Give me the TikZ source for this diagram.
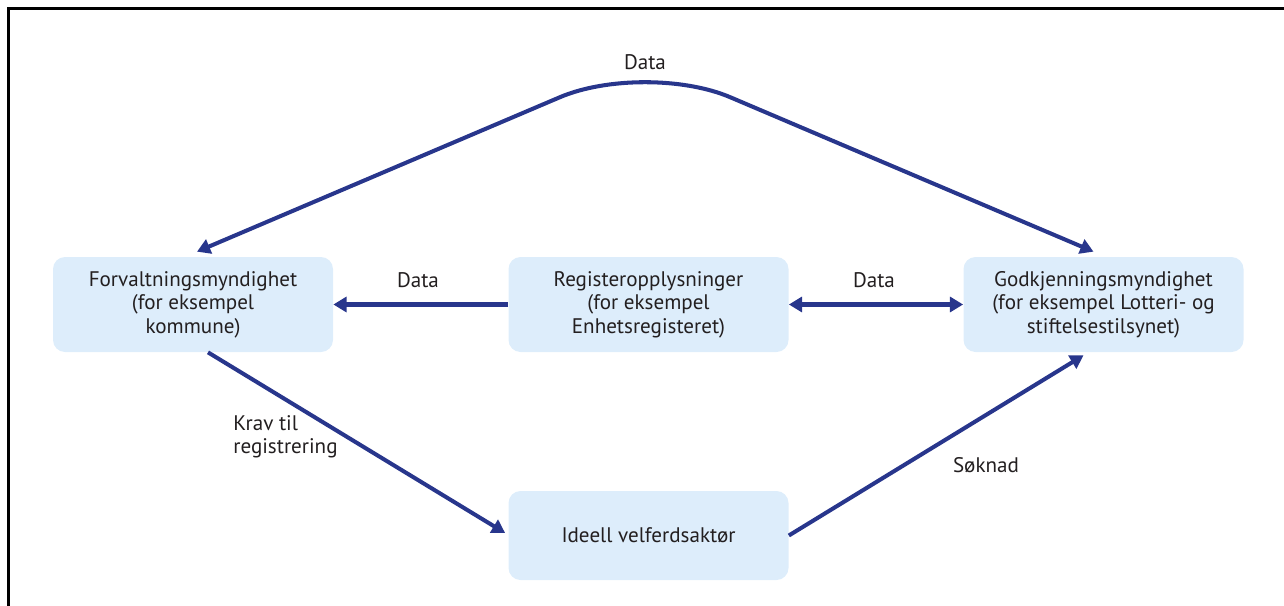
\documentclass[tikz,border=0pt]{standalone}
\usepackage{fontspec}
\setmainfont{PT Sans}
\usetikzlibrary{arrows.meta}
\definecolor{boxblue}{RGB}{221,237,251}
\definecolor{arrowblue}{RGB}{40,54,140}
\definecolor{txtgray}{RGB}{35,31,32}
\tikzset{
    boks/.style={fill=boxblue, rounded corners=0.24cm, minimum width=5.6cm, minimum height=1.9cm,
        align=center, text=txtgray, font=\fontsize{12}{13.3}\selectfont, inner sep=0pt},
    pil/.style={arrowblue, line width=2.3pt, -{Triangle[length=7.5pt, width=8.5pt]}},
    etikett/.style={text=txtgray, font=\fontsize{12}{13.3}\selectfont, inner sep=0pt}
}
\begin{document}
\begin{tikzpicture}
            \useasboundingbox (0, 0) rectangle (25.68, -12.12);
            \draw[line width=1.7pt] (0.17, -12.12) -- (0.17, -0.17) -- (25.68, -0.17);
            \node[boks] (forv) at (3.86, -6.09) {Forvaltningsmyndighet\\(for eksempel\\kommune)};
            \node[boks] (reg) at (12.97, -6.09) {Registeropplysninger\\(for eksempel\\Enhetsregisteret)};
            \node[boks] (godk) at (22.07, -6.09) {Godkjenningsmyndighet\\(for eksempel Lotteri- og\\stiftelsestilsynet)};
            \node[boks, minimum height=1.78cm] (ideell) at (12.97, -10.71) {Ideell velferdsaktør};
            \coordinate (topp) at (12.9, -1.22);
            \node[etikett] (datatopp) at (12.9, -1.24) {Data};
            \node[etikett] (dataV) at (8.36, -5.6) {Data};
            \node[etikett] (dataH) at (17.48, -5.6) {Data};
            \node[etikett, anchor=west, align=left] (krav) at (4.66, -8.74) {Krav til\\registrering};
            \node[etikett] (soknad) at (19.72, -9.3) {Søknad};
            \draw[pil] (reg.west) -- (forv.east);
            \draw[pil, {Triangle[length=7.5pt, width=8.5pt]}-{Triangle[length=7.5pt, width=8.5pt]}] (reg.east) -- (godk.west);
            \draw[pil] ([xshift=0.3cm]forv.south) -- ([xshift=-0.06cm, yshift=0.05cm]ideell.west);
            \draw[pil] (ideell.east) -- ([xshift=-0.4cm, yshift=-0.06cm]godk.south);
            \draw[pil, {Triangle[length=7.5pt, width=8.5pt]}-{Triangle[length=7.5pt, width=8.5pt]}, rounded corners=1.85cm]
                ([xshift=0.08cm, yshift=0.1cm]forv.north) -- (topp) -- ([xshift=-0.2cm, yshift=0.1cm]godk.north);
        \end{tikzpicture}
\end{document}
